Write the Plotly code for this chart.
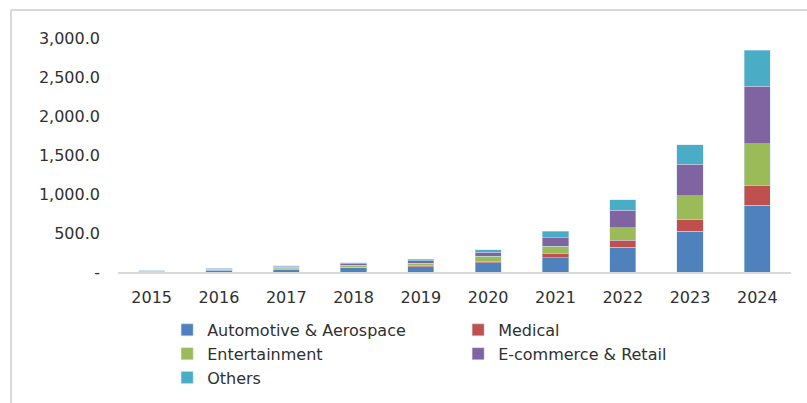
import plotly.graph_objects as go

years = ["2015", "2016", "2017", "2018", "2019", "2020", "2021", "2022", "2023", "2024"]
automotive = [8, 22, 36, 52, 70, 120, 185, 317, 522, 855]
medical = [2, 5, 6, 8, 10, 17, 51, 90, 150, 256]
entertainment = [4, 11, 18, 26, 35, 64, 97, 163, 303, 534]
ecommerce = [2, 8, 14, 22, 30, 55, 103, 222, 406, 738]
others = [2, 5, 8, 12, 18, 31, 86, 137, 253, 458]

series_names = ["Automotive & Aerospace", "Medical", "Entertainment", "E-commerce & Retail", "Others"]
series_values = [automotive, medical, entertainment, ecommerce, others]
colors = ["#4F81BD", "#C0504D", "#9BBB59", "#8064A2", "#4BACC6"]

tick_vals = [0, 500, 1000, 1500, 2000, 2500, 3000]
tick_text = ["-", "500.0", "1,000.0", "1,500.0", "2,000.0", "2,500.0", "3,000.0"]

FONT = "DejaVu Sans"

fig = go.Figure()
for name, vals, col in zip(series_names, series_values, colors):
    fig.add_trace(go.Bar(
        x=years, y=vals, name=name,
        marker=dict(color=col, line=dict(color="rgba(200,225,240,0.8)", width=0.6)),
    ))

# chart frame (light gray border partially visible)
L, T = -0.159, 1.1197
fig.add_shape(type="line", xref="paper", yref="paper", x0=L, x1=1.05, y0=T, y1=T,
              line=dict(color="#D9D9D9", width=2))
fig.add_shape(type="line", xref="paper", yref="paper", x0=L, x1=L, y0=T, y1=-0.6,
              line=dict(color="#D9D9D9", width=2))

fig.update_layout(
    width=807, height=403,
    margin=dict(l=118, r=16, t=38, b=131, autoexpand=False),
    barmode="stack", bargap=0.61,
    plot_bgcolor="white", paper_bgcolor="white",
    font=dict(family=FONT, size=16, color="#303030"),
    showlegend=True,
    legend=dict(
        orientation="h", x=0.073, xanchor="left", y=-0.175, yanchor="top",
        traceorder="normal", entrywidth=246, entrywidthmode="pixels",
        font=dict(family=FONT, size=16, color="#303030"),
        itemclick=False, tracegroupgap=0,
    ),
    xaxis=dict(
        showgrid=False, showline=True, linecolor="#D9D9D9", linewidth=2,
        ticks="", tickfont=dict(size=16), ticklabelstandoff=10,
    ),
    yaxis=dict(
        range=[0, 3000], showgrid=False, showline=False, zeroline=False,
        tickvals=tick_vals, ticktext=tick_text, ticks="",
        tickfont=dict(size=16), ticklabelstandoff=17,
    ),
)

fig.write_html("out.html")
